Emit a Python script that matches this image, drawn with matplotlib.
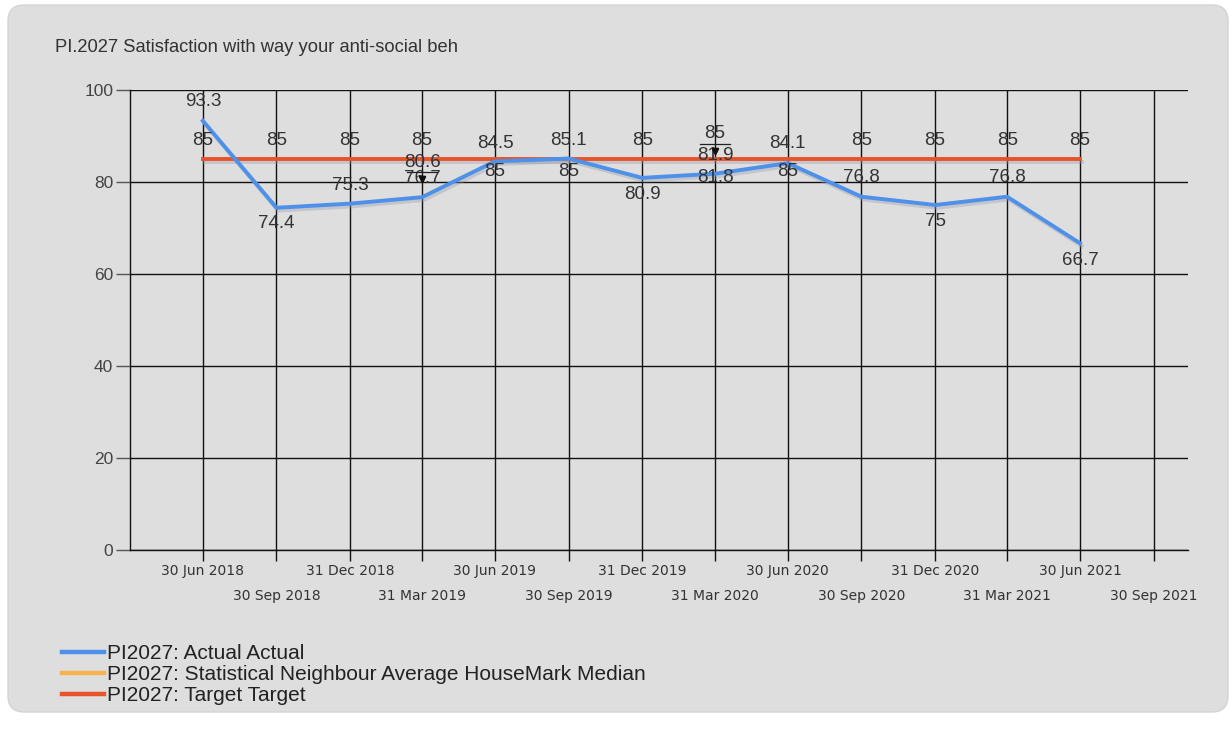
import matplotlib
matplotlib.use('Agg')
import matplotlib.pyplot as plt
import matplotlib.patheffects as pe
from matplotlib.patches import FancyBboxPatch
from matplotlib.lines import Line2D
from matplotlib.transforms import IdentityTransform, offset_copy
import numpy as np
import pandas as pd

# quarterly results
quarters = ['2018-06-30', '2018-09-30', '2018-12-31', '2019-03-31', '2019-06-30',
            '2019-09-30', '2019-12-31', '2020-03-31', '2020-06-30', '2020-09-30',
            '2020-12-31', '2021-03-31', '2021-06-30']
actual = [93.3, 74.4, 75.3, 76.7, 84.5, 85.1, 80.9, 81.8, 84.1, 76.8, 75.0, 76.8, 66.7]
neighbour = [np.nan, np.nan, np.nan, 80.6, np.nan, np.nan, np.nan, 81.9,
             np.nan, np.nan, np.nan, np.nan, np.nan]
target = [85, 85, 85, 85, 85, 85, 85, 85, 85, 85, 85, 85, 85]

tick_dates = quarters + ['2021-09-30']

title = 'PI.2027 Satisfaction with way your anti-social beh'
legend_labels = ['PI2027: Actual Actual',
                 'PI2027: Statistical Neighbour Average HouseMark Median',
                 'PI2027: Target Target']

BLUE = '#4f90e8'
ORANGE = '#f6b450'
RED = '#e9532a'
TEXT = '#333333'

plt.rcParams['font.family'] = ['Liberation Sans', 'DejaVu Sans']

W, H = 1230, 738
fig = plt.figure(figsize=(W / 100, H / 100), dpi=100, facecolor='white')

# grey rounded panel behind everything
panel = FancyBboxPatch((8, H - 712), W - 10, 707,
                       boxstyle='round,pad=0,rounding_size=16',
                       transform=IdentityTransform(), facecolor='#dedede',
                       edgecolor='#d4d4d4', linewidth=1, zorder=-10)
fig.patches.append(panel)

ax = fig.add_axes([130 / W, 1 - 550 / H, (1188 - 130) / W, (550 - 90) / H])
ax.set_facecolor('none')

x = pd.to_datetime(quarters)
shadow = [pe.SimpleLineShadow(offset=(1.2, -2), shadow_color='#8e99a8', alpha=0.35), pe.Normal()]
ax.plot(x, actual, color=BLUE, lw=2.8, path_effects=shadow, zorder=4)
ax.plot(x, neighbour, color=ORANGE, lw=2.8, zorder=3)
ax.plot(x, target, color=RED, lw=2.8, path_effects=shadow, zorder=3)

ax.set_ylim(0, 100)
ax.set_yticks(range(0, 101, 20))
ax.set_xlim(pd.Timestamp('2018-03-31'), pd.Timestamp('2021-11-12'))

ticks = pd.to_datetime(tick_dates)
ax.set_xticks(ticks)
ax.set_xticklabels([f'{t.day} {t.strftime("%b %Y")}' for t in ticks],
                   fontsize=10, color=TEXT, family='DejaVu Sans')
ax.tick_params(axis='x', length=8, width=1, color='#111111')
ax.tick_params(axis='y', length=10, width=1, color='#555555', labelsize=12.5,
               labelcolor='#444444', pad=2)
# stagger the date labels over two rows
for i, tk in enumerate(ax.xaxis.get_major_ticks()):
    tk.set_pad(2 if i % 2 == 0 else 20)

ax.grid(True, color='#111111', linewidth=1)
ax.set_axisbelow(True)
for s in ['top', 'right']:
    ax.spines[s].set_visible(False)
for s in ['left', 'bottom']:
    ax.spines[s].set_color('#111111')
    ax.spines[s].set_linewidth(1)

PX = 0.72  # points per pixel at 100 dpi
LABEL_SIZE = 13.5


def put(xv, v, dy_px):
    ax.annotate(f'{v:g}', (xv, v), xytext=(0, dy_px * PX), textcoords='offset points',
                ha='center', va='center', fontsize=LABEL_SIZE, color=TEXT, zorder=6)


def callout(xv, v, dy_px):
    # label lifted off its point, underlined, with a small arrow head below
    put(xv, v, dy_px)
    base = offset_copy(ax.transData, fig=fig, x=0, y=(dy_px - 10) * PX, units='points')
    half = pd.Timedelta(days=19)
    ax.add_line(Line2D([xv - half, xv + half], [v, v], transform=base,
                       color='#222222', lw=0.9, zorder=7))
    tip = offset_copy(ax.transData, fig=fig, x=0, y=(dy_px - 17) * PX, units='points')
    ax.add_line(Line2D([xv, xv], [v, v], transform=tip, marker='v', markersize=5,
                       color='#111111', lw=0, zorder=7))


actual_dy = [19, -16, 18, 19, 18, 18, -17, -4, 20, 19, -17, 19, -17]
for xv, v, dy in zip(x, actual, actual_dy):
    put(xv, v, dy)

target_dy = [18, 18, 18, 18, -13, -13, 18, None, -13, 18, 18, 18, 18]
for xv, v, dy in zip(x, target, target_dy):
    if dy is None:
        callout(xv, v, 25)
    else:
        put(xv, v, dy)

for xv, v in zip(x, neighbour):
    if np.isnan(v):
        continue
    if xv == pd.Timestamp('2019-03-31'):
        callout(xv, v, 17)
    else:
        put(xv, v, 18)

fig.text(55 / W, 1 - 47 / H, title, fontsize=13.2, color=TEXT, va='center', ha='left')

handles = [Line2D([], [], color=c, lw=3.2) for c in (BLUE, ORANGE, RED)]
fig.legend(handles, legend_labels, loc='upper left', bbox_to_anchor=(62 / W, 1 - 644 / H),
           frameon=False, fontsize=15, handlelength=2.0, handletextpad=0.15,
           labelspacing=0.1, borderaxespad=0, borderpad=0, labelcolor='#222222')

fig.savefig('out.png', dpi=100, facecolor='white')
